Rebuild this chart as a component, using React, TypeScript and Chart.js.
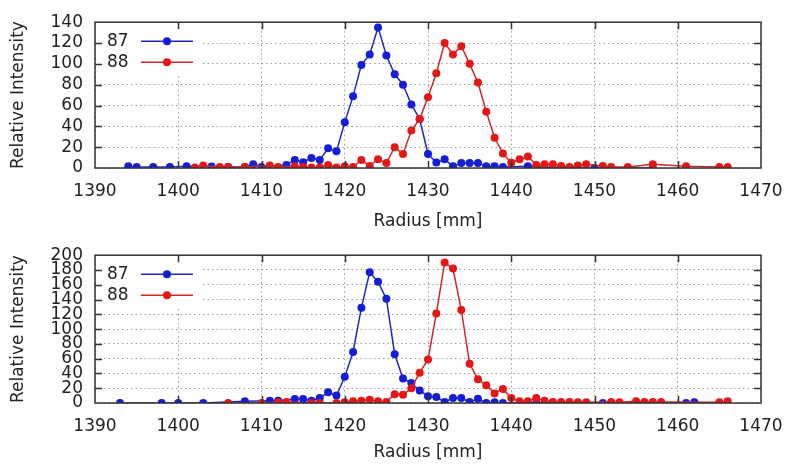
import React, { useEffect, useRef } from "react";
import { Chart, registerables } from "chart.js";

Chart.register(...registerables);

const seriesLabels = ["87", "88"];
const xTicksMin = 1390;
const xTicksMax = 1470;

// Top panel
const topBlueX = [1394, 1395, 1397, 1399, 1401, 1404, 1406, 1408, 1409, 1410, 1413, 1414, 1415, 1416, 1417, 1418, 1419, 1420, 1421, 1422, 1423, 1424, 1425, 1426, 1427, 1428, 1429, 1430, 1431, 1432, 1433, 1434, 1435, 1436, 1437, 1438, 1439, 1442, 1444, 1448, 1450, 1457];
const topBlueY = [1.6, 1, 1, 1, 1.6, 1.5, 1, 1, 3.7, 1, 3, 7.8, 5.6, 9.7, 7.8, 19, 16, 44, 69, 99, 109, 135, 108, 90, 80, 61, 47, 13.4, 5.3, 8.4, 1.6, 4.7, 4.7, 4.7, 1.6, 1.6, 1, 1.6, 1, 0, 0, 0];
const topRedX = [1402, 1403, 1405, 1406, 1408, 1411, 1412, 1414, 1415, 1416, 1417, 1418, 1419, 1420, 1421, 1422, 1423, 1424, 1425, 1426, 1427, 1428, 1429, 1430, 1431, 1432, 1433, 1434, 1435, 1436, 1437, 1438, 1439, 1440, 1441, 1442, 1443, 1444, 1445, 1446, 1447, 1448, 1449, 1451, 1452, 1454, 1457, 1461, 1465, 1466];
const topRedY = [0.6, 2.5, 1, 1, 1, 2.5, 1, 1.6, 1, 0.5, 0.5, 3, 0.5, 1.6, 1, 7.8, 2, 8.4, 4.7, 20, 13.4, 36, 47, 68, 91, 120, 109, 117, 100, 82, 54, 29, 14, 5, 8.4, 11, 3, 3.7, 3.7, 2, 1, 2.5, 3.7, 2, 1, 1, 3.7, 1.6, 1, 1];
const topYMax = 140;

// Bottom panel
const botBlueX = [1393, 1398, 1400, 1403, 1408, 1411, 1412, 1414, 1415, 1416, 1417, 1418, 1419, 1420, 1421, 1422, 1423, 1424, 1425, 1426, 1427, 1428, 1429, 1430, 1431, 1432, 1433, 1434, 1435, 1436, 1437, 1438, 1439, 1441, 1443, 1451, 1461, 1462];
const botBlueY = [0, 0, 0, 0, 2.2, 3, 3, 5.3, 5.3, 3, 6.7, 14.7, 10.2, 35.6, 69, 129, 177, 164, 141, 66, 33, 27, 17, 9, 8, 1.3, 6.7, 6.7, 1.3, 5.8, 0, 1, 0, 0, 0, 0, 0, 1];
const botRedX = [1406, 1410, 1412, 1413, 1416, 1417, 1419, 1420, 1421, 1422, 1423, 1424, 1425, 1426, 1427, 1428, 1429, 1430, 1431, 1432, 1433, 1434, 1435, 1436, 1437, 1438, 1439, 1440, 1441, 1442, 1443, 1444, 1445, 1446, 1447, 1448, 1449, 1452, 1453, 1455, 1456, 1457, 1458, 1465, 1466];
const botRedY = [0, 0, 1, 1.3, 0, 0, 0, 1, 2.2, 3, 4.4, 2.2, 1.3, 12, 11, 20, 41, 59, 121, 190, 182, 126, 53, 32, 24, 13, 19, 6.7, 2.2, 2.2, 6.7, 3, 1.3, 1.3, 1.3, 1, 1, 1.3, 1, 2.2, 1.3, 1.3, 1.3, 1, 2.2];
const botYMax = 200;

const BLUE_PT = "rgb(20,30,215)";
const BLUE_LN = "rgb(35,40,190)";
const RED_PT = "rgb(228,22,22)";
const RED_LN = "rgb(205,40,40)";

const FONT = "'DejaVu Sans', sans-serif";

const zip = (xs: number[], ys: number[]) => xs.map((x, i) => ({ x, y: ys[i] }));

const framePlugin = {
  id: "gpFrame",
  beforeDatasetsDraw(chart: any) {
    const { ctx, chartArea: a } = chart;
    ctx.save();
    ctx.fillStyle = "#ffffff";
    ctx.fillRect(a.left + 1, a.top + 1, 105, 51);
    ctx.restore();
  },
  afterDraw(chart: any) {
    const { ctx, chartArea: a, scales } = chart;
    ctx.save();
    ctx.strokeStyle = "#333";
    ctx.lineWidth = 1.5;
    const tl = 7;
    ctx.beginPath();
    scales.x.ticks.forEach((t: any) => {
      const px = Math.round(scales.x.getPixelForValue(t.value)) + 0.5;
      if (px <= a.left + 2 || px >= a.right - 2) return;
      ctx.moveTo(px, a.bottom);
      ctx.lineTo(px, a.bottom - tl);
      ctx.moveTo(px, a.top);
      ctx.lineTo(px, a.top + tl);
    });
    scales.y.ticks.forEach((t: any) => {
      const py = Math.round(scales.y.getPixelForValue(t.value)) + 0.5;
      if (py <= a.top + 2 || py >= a.bottom - 2) return;
      ctx.moveTo(a.left, py);
      ctx.lineTo(a.left + tl, py);
      ctx.moveTo(a.right, py);
      ctx.lineTo(a.right - tl, py);
    });
    ctx.stroke();
    ctx.strokeRect(a.left, a.top, a.right - a.left, a.bottom - a.top);
    const ds = chart.data.datasets;
    const legendOrder = [...ds].sort((p: any, q: any) => (p.legendIndex ?? 0) - (q.legendIndex ?? 0));
    legendOrder.forEach((d: any, i: number) => {
      const y = a.top + 19 + i * 21;
      ctx.fillStyle = "#222";
      ctx.font = `17px ${FONT}`;
      ctx.textAlign = "left";
      ctx.textBaseline = "middle";
      ctx.fillText(d.label, a.left + 12, y);
      ctx.strokeStyle = d.borderColor;
      ctx.lineWidth = 1.5;
      ctx.beginPath();
      ctx.moveTo(a.left + 46, y);
      ctx.lineTo(a.left + 98, y);
      ctx.stroke();
      ctx.fillStyle = d.pointBackgroundColor;
      ctx.beginPath();
      ctx.arc(a.left + 72, y, 4, 0, Math.PI * 2);
      ctx.fill();
    });
    ctx.restore();
  },
};

function makeConfig(blue: { x: number; y: number }[], red: { x: number; y: number }[], yMax: number, padTop: number, xAxisH: number, titleBottomPad: number) {
  return {
    type: "scatter" as const,
    data: {
      datasets: [
        {
          label: seriesLabels[0],
          legendIndex: 0,
          data: blue,
          showLine: true,
          borderColor: BLUE_LN,
          borderWidth: 1.5,
          pointBackgroundColor: BLUE_PT,
          pointBorderWidth: 0,
          pointRadius: 4,
          order: 1,
        },
        {
          label: seriesLabels[1],
          legendIndex: 1,
          data: red,
          showLine: true,
          borderColor: RED_LN,
          borderWidth: 1.5,
          pointBackgroundColor: RED_PT,
          pointBorderWidth: 0,
          pointRadius: 4,
          order: 0,
        },
      ],
    },
    options: {
      responsive: false,
      animation: false,
      devicePixelRatio: 1,
      layout: { padding: { left: 0, top: padTop, right: 26, bottom: 0 } },
      plugins: { legend: { display: false }, tooltip: { enabled: false } },
      scales: {
        x: {
          type: "linear",
          min: xTicksMin,
          max: xTicksMax,
          ticks: { stepSize: 10, padding: 2, color: "#222", font: { family: FONT, size: 17 }, maxRotation: 0, autoSkip: false, callback: (v: number) => String(v) },
          grid: { color: "#9a9a9a", lineWidth: 1, drawTicks: true, tickLength: 11, tickColor: "rgba(0,0,0,0)" },
          border: { display: false, dash: [1.5, 3] },
          title: { display: true, text: "Radius [mm]", color: "#222", font: { family: FONT, size: 17 }, padding: { top: 0, bottom: titleBottomPad } },
          afterFit: (s: any) => {
            s.height = xAxisH;
          },
        },
        y: {
          type: "linear",
          min: 0,
          max: yMax,
          ticks: { stepSize: 20, padding: 12, color: "#222", font: { family: FONT, size: 17 }, autoSkip: false },
          grid: { color: "#9a9a9a", lineWidth: 1, drawTicks: false },
          border: { display: false, dash: [1.5, 3] },
          title: { display: true, text: "Relative Intensity", color: "#222", font: { family: FONT, size: 17 }, padding: { top: 8, bottom: 0 } },
          afterFit: (s: any) => {
            s.width = 95;
          },
        },
      },
    },
    plugins: [framePlugin],
  };
}

export default function App() {
  const topRef = useRef<HTMLCanvasElement>(null);
  const botRef = useRef<HTMLCanvasElement>(null);

  useEffect(() => {
    const c1 = new Chart(topRef.current!, makeConfig(zip(topBlueX, topBlueY), zip(topRedX, topRedY), topYMax, 18, 65, 1) as any);
    const c2 = new Chart(botRef.current!, makeConfig(zip(botBlueX, botBlueY), zip(botRedX, botRedY), botYMax, 21, 63, 3) as any);
    return () => {
      c1.destroy();
      c2.destroy();
    };
  }, []);

  return (
    <div style={{ position: "fixed", left: 0, top: 0, width: 787, height: 466, background: "#fff" }}>
      <canvas ref={topRef} width={787} height={233} style={{ position: "absolute", left: 0, top: 0, width: 787, height: 233 }} />
      <canvas ref={botRef} width={787} height={233} style={{ position: "absolute", left: 0, top: 233, width: 787, height: 233 }} />
    </div>
  );
}
